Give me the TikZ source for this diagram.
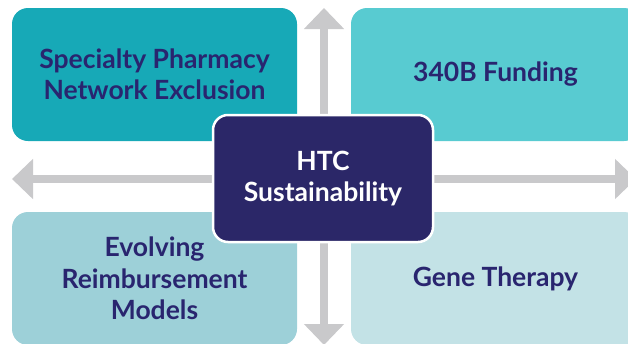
\documentclass[tikz,border=0pt]{standalone}
\usepackage{fontspec}
\setmainfont{Lato}
\usepackage{xcolor}
\usetikzlibrary{arrows.meta}

\definecolor{tealA}{HTML}{17A9B7}
\definecolor{tealB}{HTML}{58CBD1}
\definecolor{tealC}{HTML}{9DD0D8}
\definecolor{tealD}{HTML}{C3E2E6}
\definecolor{htcnavy}{HTML}{2B2768}
\definecolor{txtnavy}{HTML}{29256F}
\definecolor{arrgray}{HTML}{C9C9CB}

\tikzset{
  factor/.style={rectangle, rounded corners=16pt, inner sep=0pt, align=center,
    text=txtnavy, font=\bfseries\fontsize{26.5}{31.5}\selectfont},
  hub/.style={rectangle, rounded corners=15pt, inner sep=0pt, align=center,
    fill=htcnavy, draw=white, line width=2.5pt, text=white,
    minimum width=220pt, minimum height=127pt,
    font=\bfseries\fontsize{26.5}{31.5}\selectfont},
  bigarrow/.style={draw=arrgray, line width=8.5pt,
    -{Triangle[width=39pt, length=21pt]}}
}

\begin{document}
\begin{tikzpicture}[x=1pt, y=-1pt]
    \useasboundingbox (0,0) rectangle (628,343);
    \clip (0,0) rectangle (628,343);
    % arrows from the hub
    \coordinate (mid) at (324,179);
    \coordinate (up)    at (324,8);
    \coordinate (down)  at (324,345);
    \coordinate (left)  at (12,179);
    \coordinate (right) at (636,179);
    \draw[bigarrow] (mid) -- (up);
    \draw[bigarrow] (mid) -- (down);
    \draw[bigarrow] (mid) -- (left);
    \draw[bigarrow] (mid) -- (right);
    % four factors
    \node[factor, fill=tealA, minimum width=285pt, minimum height=133pt] (spn)
        at (154.5,74.5) {Specialty Pharmacy\\Network Exclusion};
    \node[factor, fill=tealB, minimum width=289pt, minimum height=133pt] (fund)
        at (495.5,74.5) {340B Funding};
    \node[factor, fill=tealC, minimum width=285pt, minimum height=133pt] (reimb)
        at (154.5,278.5) {Evolving\\Reimbursement\\Models};
    \node[factor, fill=tealD, minimum width=289pt, minimum height=133pt] (gene)
        at (495.5,278.5) {Gene Therapy};
    % hub
    \node[hub] (htc) at (323,178.5) {HTC\\Sustainability};
\end{tikzpicture}
\end{document}
